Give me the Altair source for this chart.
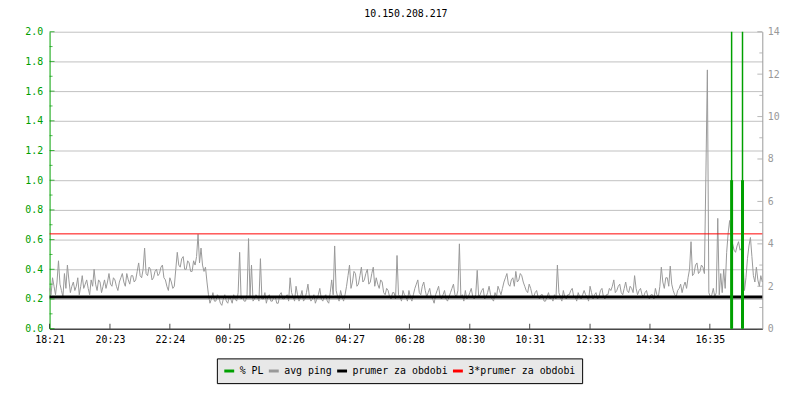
import altair as alt
import pandas as pd

# ---------------- data ----------------
chart_title = "10.150.208.217"

# avg ping (ms, right axis), one sample every 3 minutes starting 18:21
ping_ms = [
    1.9, 1.6, 2.4, 2.0, 1.6, 2.2, 3.2, 2.1, 1.8, 1.5, 2.6, 1.9, 3.0, 2.3, 1.7, 2.0, 2.2, 1.8, 2.0, 2.4,
    1.6, 2.0, 2.5, 1.9, 2.1, 2.3, 1.9, 1.6, 2.3, 2.0, 2.8, 2.1, 1.8, 2.3, 2.2, 1.7, 2.0, 2.3, 1.9, 2.2,
    2.6, 2.1, 2.0, 2.4, 2.3, 2.0, 1.8, 2.2, 2.4, 2.6, 2.2, 2.0, 2.6, 2.3, 2.1, 2.5, 2.5, 2.2, 2.3, 2.7,
    3.1, 2.5, 2.4, 2.8, 3.8, 2.6, 2.5, 2.9, 2.8, 2.3, 2.4, 2.7, 2.8, 2.5, 2.6, 2.9, 3.0, 2.4, 2.3, 2.0,
    1.8, 2.4, 2.2, 1.9, 2.0, 2.8, 3.6, 3.0, 2.9, 3.3, 3.4, 2.8, 2.8, 3.2, 3.1, 2.7, 2.7, 3.2, 3.0, 3.4,
    4.45, 3.1, 3.8, 3.0, 2.7, 2.9, 2.2, 1.6, 1.2, 1.4, 1.7, 1.3, 1.3, 1.6, 1.5, 1.2, 1.1, 1.4, 1.6, 1.3,
    1.2, 1.5, 1.4, 1.2, 1.6, 1.4, 1.3, 1.7, 3.6, 1.4, 1.5, 1.3, 1.3, 1.6, 4.25, 1.5, 3.0, 1.3, 1.4, 1.6,
    1.5, 1.3, 3.3, 1.4, 1.4, 1.7, 1.2, 1.5, 1.6, 1.3, 1.3, 1.5, 1.5, 1.2, 1.2, 1.6, 1.7, 1.4, 1.4, 1.5,
    1.6, 1.3, 2.4, 1.7, 1.5, 1.3, 2.0, 1.6, 1.3, 1.5, 1.8, 1.3, 1.4, 1.7, 2.1, 1.5, 1.3, 1.4, 1.6, 1.2,
    1.4, 1.6, 1.9, 1.4, 1.3, 1.5, 1.6, 1.3, 1.2, 1.7, 2.3, 1.6, 3.9, 1.8, 1.5, 1.3, 1.8, 1.5, 1.3, 1.6,
    2.0, 2.5, 3.0, 1.9, 2.2, 2.7, 2.6, 2.0, 2.1, 2.5, 2.9, 2.2, 2.3, 2.6, 2.8, 2.1, 2.2, 2.6, 2.9, 2.0,
    2.4, 2.1, 1.9, 2.3, 2.2, 1.7, 1.6, 1.9, 1.8, 1.5, 1.4, 1.7, 1.7, 1.4, 3.45, 1.6, 1.5, 1.3, 1.8, 1.6,
    1.5, 1.3, 1.8, 1.5, 1.3, 1.6, 1.9, 2.1, 2.3, 1.7, 1.6, 2.0, 2.2, 1.8, 1.5, 1.7, 1.9, 1.5, 1.4, 1.2,
    1.6, 1.8, 2.0, 1.5, 1.4, 1.6, 1.8, 1.4, 1.3, 1.5, 1.7, 1.9, 2.1, 1.6, 1.5, 1.8, 4.0, 1.5, 1.6, 1.3,
    1.8, 1.4, 1.5, 1.7, 1.9, 1.5, 1.4, 1.6, 2.75, 1.5, 1.6, 1.8, 1.9, 1.4, 1.5, 1.7, 2.0, 1.6, 1.4, 1.3,
    1.7, 1.5, 2.0, 1.8, 1.6, 1.9, 2.2, 2.4, 2.6, 2.1, 2.0, 2.3, 2.4, 2.0, 2.7, 2.2, 2.3, 2.6, 2.5, 2.2,
    2.0, 1.8, 1.7, 2.1, 1.9, 1.6, 1.5, 1.7, 1.8, 1.5, 1.4, 1.6, 1.6, 1.3, 1.3, 1.5, 1.7, 1.4, 1.5, 1.3,
    1.6, 1.4, 3.0, 1.7, 1.5, 1.3, 1.8, 1.5, 1.4, 1.6, 1.6, 1.8, 1.9, 1.5, 1.5, 1.3, 1.7, 1.5, 1.4, 1.6,
    1.8, 1.6, 1.5, 1.3, 2.0, 1.7, 1.4, 1.6, 1.7, 1.4, 1.5, 1.8, 1.9, 1.5, 1.4, 1.6, 1.6, 1.9, 1.8, 2.0,
    2.3, 1.7, 1.8, 2.0, 2.1, 1.7, 1.6, 1.9, 2.2, 1.8, 1.7, 2.0, 1.9, 1.7, 2.5, 1.9, 1.6, 1.8, 1.9, 1.6,
    1.5, 1.7, 1.8, 1.5, 1.4, 1.6, 1.6, 1.4, 1.9, 1.6, 1.5, 2.0, 2.9, 2.2, 1.9, 2.4, 2.4, 2.0, 2.95, 2.1,
    1.8, 1.6, 1.5, 1.8, 1.9, 2.1, 1.7, 2.0, 2.2, 1.9, 2.4, 2.8, 4.1, 2.5, 2.6, 3.0, 3.1, 2.6, 2.7, 3.0,
    2.9, 2.6, 7.2, 12.2, 1.7, 1.5, 1.6, 1.9, 1.5, 1.7, 5.2, 1.6, 2.6, 1.7, 2.8, 1.9, 3.6, 4.5, 5.1, 4.4,
    4.0, 3.7, 3.6, 3.9, 4.1, 3.7, 3.8, 3.2, 1.8, 2.4, 3.3, 3.9, 4.3, 3.4, 2.5, 2.2, 2.9, 2.3, 2.0, 2.5,
    2.2,
]
start_time = pd.Timestamp("2000-01-01 18:21")
sample_step_min = 3
ping_time = [start_time + pd.Timedelta(minutes=i * sample_step_min) for i in range(len(ping_ms))]

mean_ping = 1.49  # "prumer za obdobi"

# packet loss (left axis)
pl_minutes = [1378, 1400]
pl_level = [1.0, 1.0]
pl_peak = [2.0, 2.0]

# x axis: tick positions (minutes after 18:21) -> labels 18:21, 20:23, ... 16:35
x_span_min = 1440
x_tick_minutes = [0, 122, 243, 364, 485, 606, 727, 849, 970, 1092, 1213, 1334]

left_major = [0.0, 0.2, 0.4, 0.6, 0.8, 1.0, 1.2, 1.4, 1.6, 1.8, 2.0]
left_minor = [0.1, 0.3, 0.5, 0.7, 0.9, 1.1, 1.3, 1.5, 1.7, 1.9]
right_major = [0, 2, 4, 6, 8, 10, 12, 14]
right_minor = [1, 3, 5, 7, 9, 11, 13]

series_names = ["% PL", "avg ping", "prumer za obdobi", "3*prumer za obdobi"]
series_colors = ["#00a000", "#999999", "#000000", "#ff0000"]

# ---------------- styling ----------------
MONO = "DejaVu Sans Mono"
GREEN = "#00a000"
GRAY = "#999999"
W, H = 720, 300


def at(minutes):
    return start_time + pd.Timedelta(minutes=minutes)


def dt(ts):
    return alt.DateTime(year=ts.year, month=ts.month, date=ts.day,
                        hours=ts.hour, minutes=ts.minute)


ping_df = pd.DataFrame({"t": ping_time, "v": ping_ms, "series": "avg ping"})
mean_df = pd.DataFrame({"v": [mean_ping], "series": ["prumer za obdobi"]})
mean3_df = pd.DataFrame({"v": [3 * mean_ping], "series": ["3*prumer za obdobi"]})
pl_df = pd.DataFrame({"t": [at(m) for m in pl_minutes], "lo": [0.0] * len(pl_minutes),
                      "level": pl_level, "peak": pl_peak, "series": "% PL"})
xt_df = pd.DataFrame({"t": [at(m) for m in x_tick_minutes]})
lmaj_df = pd.DataFrame({"v": left_major})
lmin_df = pd.DataFrame({"v": left_minor})
rmaj_df = pd.DataFrame({"v": right_major})
rmin_df = pd.DataFrame({"v": right_minor})
# legend drop-shadow extent (decoration), expressed along the time axis
shadow_df = pd.DataFrame({"t": [at(341)], "t2": [at(1071)]})

color_scale = alt.Scale(domain=series_names, range=series_colors)
x_scale = alt.Scale(domain=[dt(at(0)), dt(at(x_span_min))], nice=False)
left_scale = alt.Scale(domain=[0, 2], nice=False)
right_scale = alt.Scale(domain=[0, 14], nice=False)

x_axis = alt.Axis(values=[dt(at(m)) for m in x_tick_minutes], format="%H:%M",
                  ticks=False, grid=False, domainColor="black", labelColor="black",
                  labelPadding=6, title=None, labelFlush=False, labelOverlap=False)
left_axis = alt.Axis(values=left_major, format=".1f", ticks=False, grid=True,
                     gridColor="#c0c0c0", gridWidth=1, domainColor=GREEN, labelColor=GREEN,
                     labelPadding=7, title=None, orient="left", labelFlush=False)
right_axis = alt.Axis(values=right_major, format="d", ticks=False, grid=False,
                      domainColor=GRAY, labelColor=GRAY, labelPadding=5, title=None,
                      orient="right", labelFlush=False)


def X(field="t:T"):
    return alt.X(field, scale=x_scale, axis=x_axis)


color_enc = alt.Color("series:N", scale=color_scale)

ping_line = alt.Chart(ping_df).mark_line(strokeWidth=1).encode(
    x=X(),
    y=alt.Y("v:Q", scale=right_scale, axis=right_axis),
    color=color_enc,
)
red_rule = alt.Chart(mean3_df).mark_rule(strokeWidth=1).encode(
    y=alt.Y("v:Q", scale=right_scale, axis=None), color=color_enc)
black_rule = alt.Chart(mean_df).mark_rule(strokeWidth=3).encode(
    y=alt.Y("v:Q", scale=right_scale, axis=None), color=color_enc)
rmaj_ticks = alt.Chart(rmaj_df).mark_tick(size=5, thickness=1, color=GRAY).encode(
    y=alt.Y("v:Q", scale=right_scale, axis=None), x=alt.value(W - 2.5))
rmin_ticks = alt.Chart(rmin_df).mark_tick(size=3, thickness=1, color=GRAY).encode(
    y=alt.Y("v:Q", scale=right_scale, axis=None), x=alt.value(W - 1.5))
x_ticks = alt.Chart(xt_df).mark_tick(size=5, thickness=1, color="black").encode(
    x=X(), y=alt.value(H - 2.5))

pl_thin = alt.Chart(pl_df).mark_rule(strokeWidth=1.5).encode(
    x=X(),
    y=alt.Y("lo:Q", scale=left_scale, axis=left_axis),
    y2="peak:Q",
    color=color_enc,
)
pl_thick = alt.Chart(pl_df).mark_rule(strokeWidth=3).encode(
    x=X(),
    y=alt.Y("lo:Q", scale=left_scale, axis=None),
    y2="level:Q",
    color=color_enc,
)
lmaj_ticks = alt.Chart(lmaj_df).mark_tick(size=5, thickness=1, color=GREEN).encode(
    y=alt.Y("v:Q", scale=left_scale, axis=None), x=alt.value(2.5))
lmin_ticks = alt.Chart(lmin_df).mark_tick(size=3, thickness=1, color=GREEN).encode(
    y=alt.Y("v:Q", scale=left_scale, axis=None), x=alt.value(1.5))

legend_shadow = alt.Chart(shadow_df).mark_rect(color="#555555", clip=False).encode(
    x=X(), x2="t2:T", y=alt.value(H + 33), y2=alt.value(H + 56))

chart = (
    alt.layer(legend_shadow, ping_line, red_rule, black_rule, rmaj_ticks, rmin_ticks, x_ticks,
              pl_thin, pl_thick, lmaj_ticks, lmin_ticks)
    .resolve_scale(y="independent")
    .properties(
        width=W, height=H,
        autosize=alt.AutoSizeParams(type="none"),
        padding={"left": 42, "top": 22, "right": 30, "bottom": 62},
        title=alt.TitleParams(chart_title, font=MONO, fontSize=10, fontWeight="normal",
                              color="black", anchor="middle", frame="group", offset=8),
    )
    .configure_view(stroke=None, clip=False)
    .configure_axis(labelFont=MONO, labelFontSize=10)
    .configure_legend(
        orient="none", legendX=169, legendY=330, direction="horizontal", title=None,
        fillColor="#e8e8e8", strokeColor="black", padding=6, cornerRadius=0,
        symbolType="stroke", symbolStrokeWidth=3, symbolSize=100,
        labelFont=MONO, labelFontSize=10, labelColor="black", labelOffset=4,
        columnPadding=-2,
    )
)

chart.save("out.html", embed_options={"renderer": "svg", "actions": False})
